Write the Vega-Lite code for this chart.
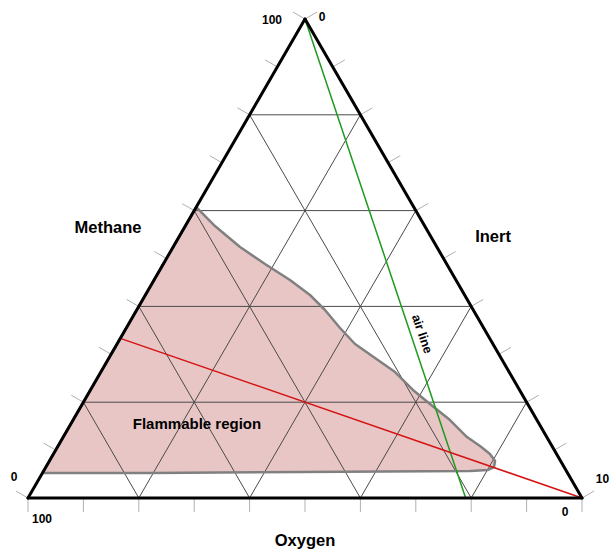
{
  "$schema": "https://vega.github.io/schema/vega-lite/v6.json",
  "width": 554,
  "height": 479,
  "autosize": {"type": "none"},
  "padding": {"left": 28, "top": 19, "right": 30, "bottom": 55},
  "background": "white",
  "config": {"view": {"stroke": null}},
  "datasets": {
    "region": [
      {"i": 0, "x": 2.61, "y": 5.22},
      {"i": 1, "x": 30.37, "y": 60.75},
      {"i": 2, "x": 33.75, "y": 56.78},
      {"i": 3, "x": 38.27, "y": 52.4},
      {"i": 4, "x": 42.78, "y": 48.85},
      {"i": 5, "x": 47.29, "y": 45.51},
      {"i": 6, "x": 50.9, "y": 42.38},
      {"i": 7, "x": 53.61, "y": 39.25},
      {"i": 8, "x": 56.32, "y": 35.49},
      {"i": 9, "x": 59.03, "y": 32.15},
      {"i": 10, "x": 62.64, "y": 29.23},
      {"i": 11, "x": 66.25, "y": 26.3},
      {"i": 12, "x": 69.49, "y": 22.55},
      {"i": 13, "x": 72.56, "y": 19.62},
      {"i": 14, "x": 76.17, "y": 16.28},
      {"i": 15, "x": 79.24, "y": 12.73},
      {"i": 16, "x": 81.59, "y": 10.86},
      {"i": 17, "x": 83.39, "y": 9.19},
      {"i": 18, "x": 84.3, "y": 7.72},
      {"i": 19, "x": 84.12, "y": 6.47},
      {"i": 20, "x": 83.03, "y": 5.85},
      {"i": 21, "x": 79.78, "y": 5.64},
      {"i": 22, "x": 49.1, "y": 5.43},
      {"i": 23, "x": 22.02, "y": 5.22},
      {"i": 24, "x": 2.61, "y": 5.22}
    ],
    "grid": [
      {"x": 10, "y": 20, "x2": 90, "y2": 20},
      {"x": 20, "y": 40, "x2": 80, "y2": 40},
      {"x": 30, "y": 60, "x2": 70, "y2": 60},
      {"x": 40, "y": 80, "x2": 60, "y2": 80},
      {"x": 20, "y": 0, "x2": 60, "y2": 80},
      {"x": 40, "y": 0, "x2": 70, "y2": 60},
      {"x": 60, "y": 0, "x2": 80, "y2": 40},
      {"x": 80, "y": 0, "x2": 90, "y2": 20},
      {"x": 80, "y": 0, "x2": 40, "y2": 80},
      {"x": 60, "y": 0, "x2": 30, "y2": 60},
      {"x": 40, "y": 0, "x2": 20, "y2": 40},
      {"x": 20, "y": 0, "x2": 10, "y2": 20}
    ],
    "ticks": [
      {"x": 0, "y": 0, "x2": 0, "y2": -2.92},
      {"x": 10, "y": 0, "x2": 10, "y2": -2.92},
      {"x": 20, "y": 0, "x2": 20, "y2": -2.92},
      {"x": 30, "y": 0, "x2": 30, "y2": -2.92},
      {"x": 40, "y": 0, "x2": 40, "y2": -2.92},
      {"x": 50, "y": 0, "x2": 50, "y2": -2.92},
      {"x": 60, "y": 0, "x2": 60, "y2": -2.92},
      {"x": 70, "y": 0, "x2": 70, "y2": -2.92},
      {"x": 80, "y": 0, "x2": 80, "y2": -2.92},
      {"x": 90, "y": 0, "x2": 90, "y2": -2.92},
      {"x": 100, "y": 0, "x2": 100, "y2": -2.92},
      {"x": 0, "y": 0, "x2": -2.19, "y2": 1.46},
      {"x": 5, "y": 10, "x2": 2.81, "y2": 11.46},
      {"x": 10, "y": 20, "x2": 7.81, "y2": 21.46},
      {"x": 15, "y": 30, "x2": 12.81, "y2": 31.46},
      {"x": 20, "y": 40, "x2": 17.81, "y2": 41.46},
      {"x": 25, "y": 50, "x2": 22.81, "y2": 51.46},
      {"x": 30, "y": 60, "x2": 27.81, "y2": 61.46},
      {"x": 35, "y": 70, "x2": 32.81, "y2": 71.46},
      {"x": 40, "y": 80, "x2": 37.81, "y2": 81.46},
      {"x": 45, "y": 90, "x2": 42.81, "y2": 91.46},
      {"x": 50, "y": 100, "x2": 47.81, "y2": 101.46},
      {"x": 100, "y": 0, "x2": 102.19, "y2": 1.46},
      {"x": 95, "y": 10, "x2": 97.19, "y2": 11.46},
      {"x": 90, "y": 20, "x2": 92.19, "y2": 21.46},
      {"x": 85, "y": 30, "x2": 87.19, "y2": 31.46},
      {"x": 80, "y": 40, "x2": 82.19, "y2": 41.46},
      {"x": 75, "y": 50, "x2": 77.19, "y2": 51.46},
      {"x": 70, "y": 60, "x2": 72.19, "y2": 61.46},
      {"x": 65, "y": 70, "x2": 67.19, "y2": 71.46},
      {"x": 60, "y": 80, "x2": 62.19, "y2": 81.46},
      {"x": 55, "y": 90, "x2": 57.19, "y2": 91.46},
      {"x": 50, "y": 100, "x2": 52.19, "y2": 101.46}
    ],
    "outline": [
      {"x": 0, "y": 0, "x2": 100, "y2": 0},
      {"x": 0, "y": 0, "x2": 50, "y2": 100},
      {"x": 50, "y": 100, "x2": 100, "y2": 0}
    ],
    "airline": [{"x": 50, "y": 100, "x2": 79, "y2": 0}],
    "stoich": [{"x": 16.67, "y": 33.33, "x2": 100, "y2": 0}],
    "titles": [
      {"x": 14.44, "y": 56.37, "label": "Methane"},
      {"x": 83.94, "y": 54.49, "label": "Inert"},
      {"x": 50, "y": -8.98, "label": "Oxygen"}
    ],
    "regionlabel": [{"x": 30.5, "y": 15.45, "label": "Flammable region"}],
    "airlabel": [{"x": 71.12, "y": 34.24, "label": "air line"}],
    "ticklabels": [
      {"x": 44.04, "y": 99.79, "label": "100"},
      {"x": 53.07, "y": 100.4, "label": "0"},
      {"x": -2.53, "y": 4.38, "label": "0"},
      {"x": 2.53, "y": -4.38, "label": "100"},
      {"x": 96.93, "y": -2.92, "label": "0"}
    ],
    "edgelabel": [{"x": 102.5, "y": 3.97, "label": "10"}]
  },
  "encoding": {
    "x": {"field": "x", "type": "quantitative", "scale": {"domain": [0, 100], "nice": false, "zero": false}, "axis": null},
    "y": {"field": "y", "type": "quantitative", "scale": {"domain": [0, 100], "nice": false, "zero": false}, "axis": null}
  },
  "layer": [
    {
      "data": {"name": "region"},
      "mark": {"type": "line", "fill": "#e9c6c6", "stroke": "#e9c6c6", "strokeWidth": 0, "clip": false},
      "encoding": {"order": {"field": "i", "type": "quantitative"}}
    },
    {
      "data": {"name": "grid"},
      "mark": {"type": "rule", "color": "#4a4a4a", "strokeWidth": 1},
      "encoding": {"x2": {"field": "x2"}, "y2": {"field": "y2"}}
    },
    {
      "data": {"name": "region"},
      "mark": {"type": "line", "stroke": "#808080", "strokeWidth": 2.5, "strokeJoin": "round"},
      "encoding": {"order": {"field": "i", "type": "quantitative"}}
    },
    {
      "data": {"name": "ticks"},
      "mark": {"type": "rule", "color": "#b0b0b0", "strokeWidth": 1, "clip": false},
      "encoding": {"x2": {"field": "x2"}, "y2": {"field": "y2"}}
    },
    {
      "data": {"name": "airline"},
      "mark": {"type": "rule", "color": "#1f9a1f", "strokeWidth": 1.5},
      "encoding": {"x2": {"field": "x2"}, "y2": {"field": "y2"}}
    },
    {
      "data": {"name": "stoich"},
      "mark": {"type": "rule", "color": "#d41414", "strokeWidth": 1.5},
      "encoding": {"x2": {"field": "x2"}, "y2": {"field": "y2"}}
    },
    {
      "data": {"name": "outline"},
      "mark": {"type": "rule", "color": "#000000", "strokeWidth": 3, "strokeCap": "round"},
      "encoding": {"x2": {"field": "x2"}, "y2": {"field": "y2"}}
    },
    {
      "data": {"name": "titles"},
      "mark": {"type": "text", "font": "Liberation Sans", "fontWeight": "bold", "fontSize": 16.5, "color": "#000000", "align": "center", "baseline": "middle"},
      "encoding": {"text": {"field": "label"}}
    },
    {
      "data": {"name": "regionlabel"},
      "mark": {"type": "text", "font": "Liberation Sans", "fontWeight": "bold", "fontSize": 15, "color": "#000000", "align": "center", "baseline": "middle"},
      "encoding": {"text": {"field": "label"}}
    },
    {
      "data": {"name": "airlabel"},
      "mark": {"type": "text", "font": "Liberation Sans", "fontWeight": "bold", "fontSize": 12.5, "color": "#000000", "align": "center", "baseline": "middle", "angle": 71.4},
      "encoding": {"text": {"field": "label"}}
    },
    {
      "data": {"name": "ticklabels"},
      "mark": {"type": "text", "font": "Liberation Sans", "fontWeight": "bold", "fontSize": 12, "color": "#000000", "align": "center", "baseline": "middle"},
      "encoding": {"text": {"field": "label"}}
    },
    {
      "data": {"name": "edgelabel"},
      "mark": {"type": "text", "font": "Liberation Sans", "fontWeight": "bold", "fontSize": 12, "color": "#000000", "align": "left", "baseline": "middle"},
      "encoding": {"text": {"field": "label"}}
    }
  ]
}
